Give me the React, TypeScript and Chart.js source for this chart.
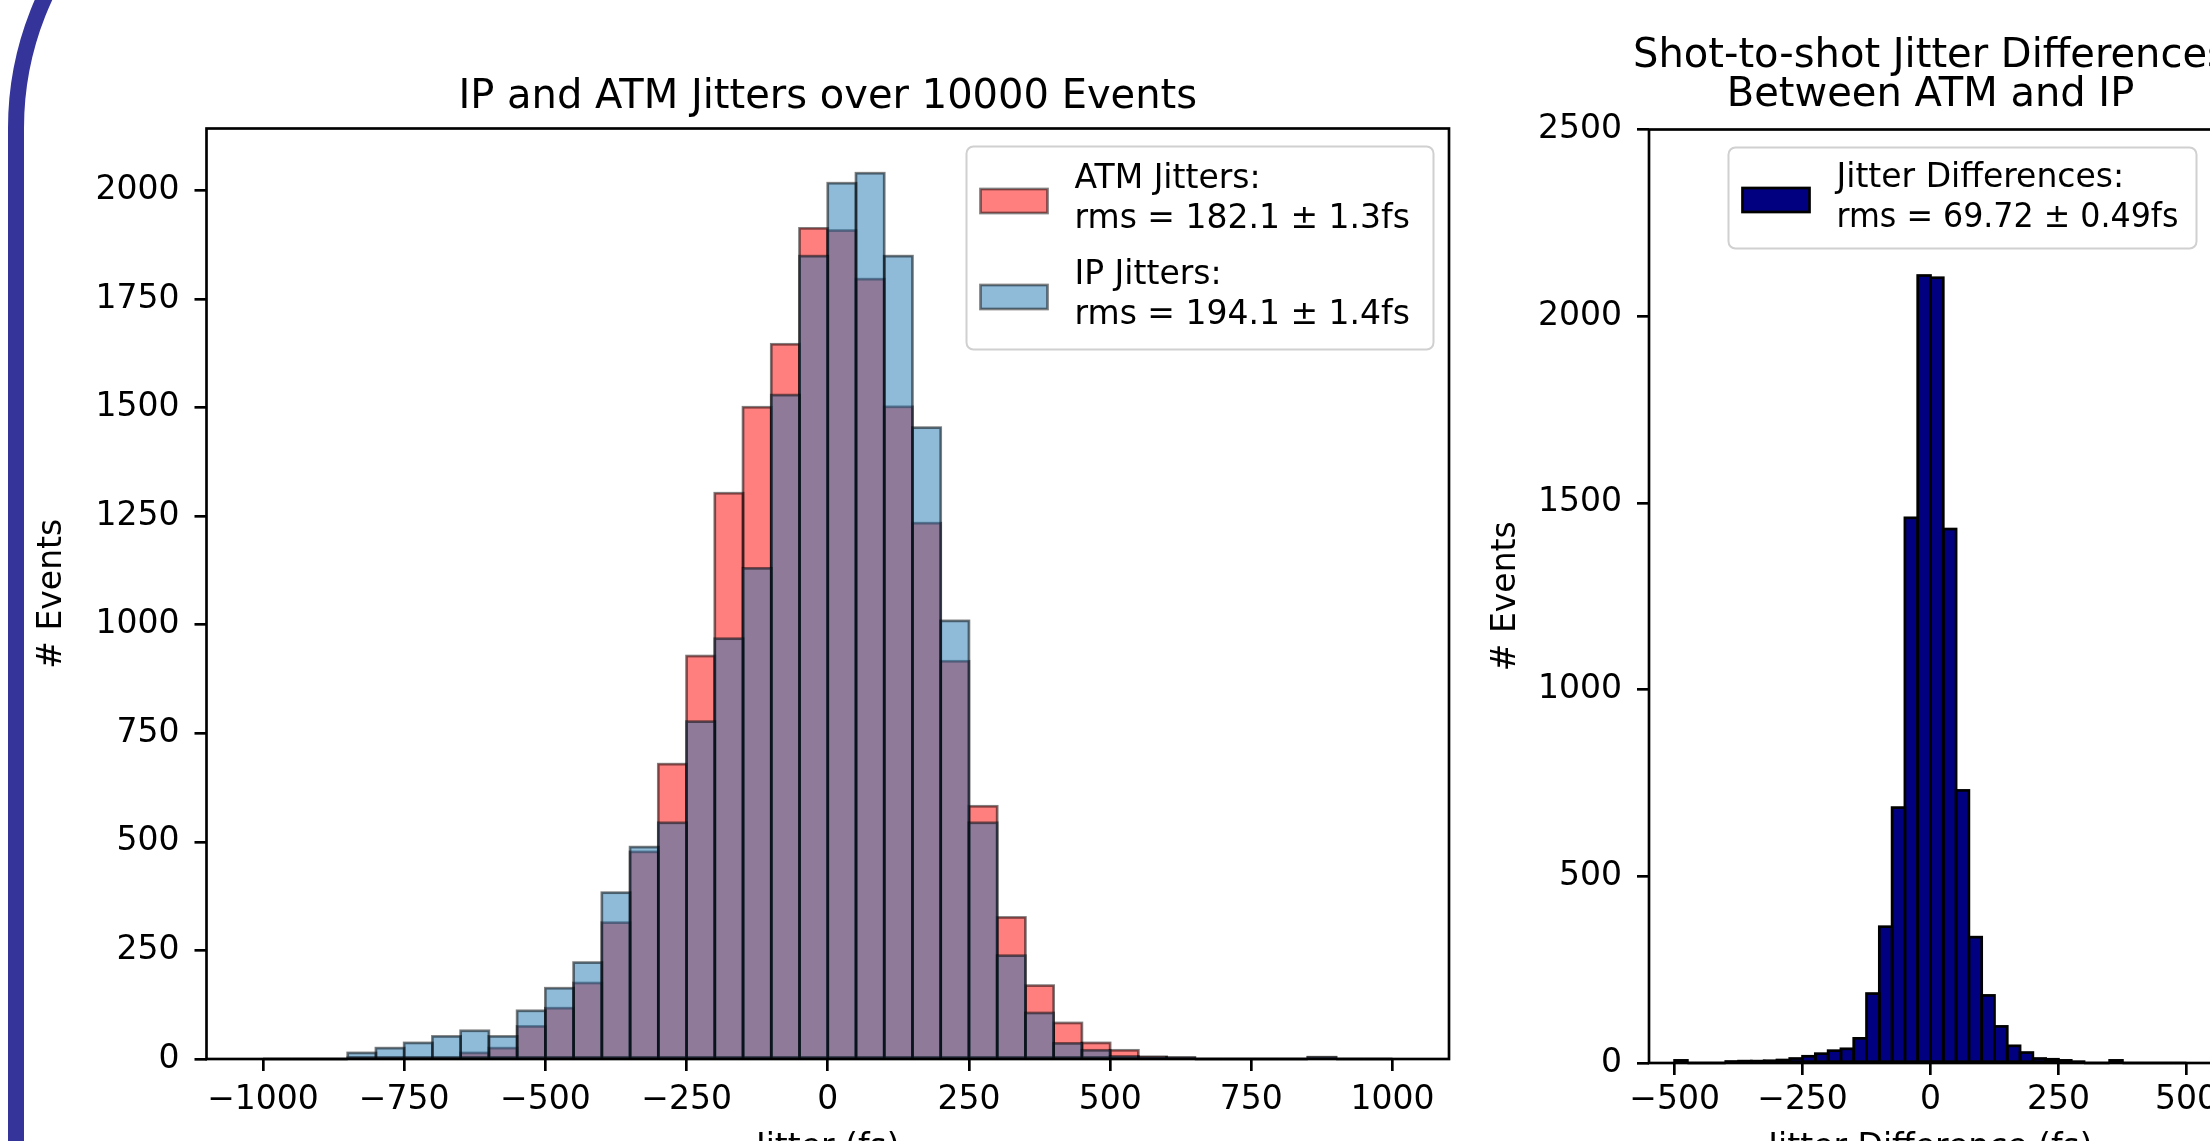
import React, { useEffect, useRef } from 'react';
import { Chart, registerables } from 'chart.js';

Chart.register(...registerables);

const FONT = '"DejaVu Sans"';

// ---------- Left panel: IP and ATM jitters (bin width 50 fs) ----------
const jitterBinCenters = [
  -975, -925, -875, -825, -775, -725, -675, -625, -575, -525,
  -475, -425, -375, -325, -275, -225, -175, -125, -75, -25,
  25, 75, 125, 175, 225, 275, 325, 375, 425, 475,
  525, 575, 625, 675, 725, 775, 825, 875, 925, 975,
];
const atmCounts = [
  0, 0, 0, 2, 2, 3, 3, 14, 25, 75,
  117, 175, 314, 477, 679, 928, 1303, 1501, 1646, 1913,
  1908, 1796, 1502, 1234, 916, 582, 326, 169, 83, 37,
  20, 5, 3, 0, 0, 0, 0, 4, 0, 0,
];
const ipCounts = [
  0, 0, 0, 14, 25, 37, 52, 65, 52, 111,
  163, 222, 383, 488, 544, 777, 968, 1130, 1529, 1849,
  2017, 2040, 1849, 1454, 1009, 544, 238, 106, 36, 20,
  6, 4, 2, 0, 0, 0, 0, 4, 0, 0,
];
const jitterXTicks = [-1000, -750, -500, -250, 0, 250, 500, 750, 1000];
const jitterYTicks = [0, 250, 500, 750, 1000, 1250, 1500, 1750, 2000];
const jitterTitle = ['IP and ATM Jitters over 10000 Events'];
const jitterLegend = [
  { lines: ['ATM Jitters:', 'rms = 182.1 \u00b1 1.3fs'], fill: 'rgba(255,0,0,0.5)', edge: 'rgba(0,0,0,0.5)' },
  { lines: ['IP Jitters:', 'rms = 194.1 \u00b1 1.4fs'], fill: 'rgba(31,119,180,0.5)', edge: 'rgba(0,0,0,0.5)' },
];

// ---------- Right panel: shot-to-shot differences (bin width 25 fs) ----------
const diffBinCenters = [
  -487.5, -462.5, -437.5, -412.5, -387.5, -362.5, -337.5, -312.5, -287.5, -262.5,
  -237.5, -212.5, -187.5, -162.5, -137.5, -112.5, -87.5, -62.5, -37.5, -12.5,
  12.5, 37.5, 62.5, 87.5, 112.5, 137.5, 162.5, 187.5, 212.5, 237.5,
  262.5, 287.5, 312.5, 337.5, 362.5, 387.5, 412.5, 437.5, 462.5, 487.5,
];
const diffCounts = [
  7, 0, 0, 0, 4, 5, 5, 6, 8, 12,
  18, 25, 33, 38, 66, 186, 365, 684, 1460, 2109,
  2103, 1430, 730, 337, 181, 98, 46, 28, 12, 10,
  7, 1, 0, 0, 7, 0, 0, 0, 0, 0,
];
const diffXTicks = [-500, -250, 0, 250, 500];
const diffYTicks = [0, 500, 1000, 1500, 2000, 2500];
const diffTitle = ['Shot-to-shot Jitter Differences', 'Between ATM and IP'];
const diffLegend = [
  { lines: ['Jitter Differences:', 'rms = 69.72 \u00b1 0.49fs'], fill: '#000080', edge: '#000000' },
];

const fmt = (v: number) => (v < 0 ? '\u2212' + Math.abs(v) : String(v));

function mplPlugin(cfg: any) {
  return {
    id: 'mplLook',
    afterDatasetDraw(chart: any, args: any) {
      const ctx = chart.ctx;
      const edge = cfg.edges[args.index];
      ctx.save();
      ctx.strokeStyle = edge;
      ctx.lineWidth = cfg.edgeWidth;
      args.meta.data.forEach((el: any) => {
        const p = el.getProps(['x', 'y', 'base', 'width'], true);
        const l = p.x - p.width / 2;
        const t = Math.min(p.y, p.base);
        const h = Math.abs(p.base - p.y);
        ctx.strokeRect(l, t, p.width, h);
      });
      ctx.restore();
    },
    afterDatasetsDraw(chart: any) {
      const ctx = chart.ctx;
      const { left, right, top, bottom } = chart.chartArea;
      ctx.save();
      ctx.strokeStyle = '#000';
      ctx.lineWidth = 2.67;
      ctx.strokeRect(left, top, right - left, bottom - top);
      ctx.restore();
    },
    afterDraw(chart: any) {
      const ctx = chart.ctx;
      const { left, right, top } = chart.chartArea;
      ctx.save();
      // title (centred over the axes, like matplotlib)
      ctx.fillStyle = '#000';
      ctx.font = `40px ${FONT}`;
      ctx.textAlign = 'center';
      ctx.textBaseline = 'alphabetic';
      const cx = (left + right) / 2;
      const n = cfg.title.length;
      cfg.title.forEach((line: string, i: number) => {
        ctx.fillText(line, cx, cfg.titleBaseline - (n - 1 - i) * 39);
      });
      // legend box (upper right)
      const bw = cfg.legendW;
      const bh = cfg.legendH;
      const bx = right - 15.5 - bw;
      const by = top + 18;
      ctx.beginPath();
      ctx.roundRect(bx, by, bw, bh, 7);
      ctx.fillStyle = 'rgba(255,255,255,0.8)';
      ctx.fill();
      ctx.strokeStyle = '#d0d0d0';
      ctx.lineWidth = 2;
      ctx.stroke();
      ctx.font = `33px ${FONT}`;
      ctx.textAlign = 'left';
      const maxW = bw - 126;
      cfg.legend.forEach((item: any, i: number) => {
        const b1 = by + cfg.legendFirstBaseline + i * 96;
        const b2 = b1 + 40;
        const hc = (b1 + b2) / 2 - 6.5;
        ctx.fillStyle = item.fill;
        ctx.fillRect(bx + 14, hc - 12, 67, 24);
        ctx.strokeStyle = item.edge;
        ctx.lineWidth = 2.7;
        ctx.strokeRect(bx + 14, hc - 12, 67, 24);
        ctx.fillStyle = '#000';
        ctx.fillText(item.lines[0], bx + 108, b1, maxW);
        ctx.fillText(item.lines[1], bx + 108, b2, maxW);
      });
      ctx.restore();
    },
  };
}

function axisCommon(ticksArr: number[], extra: any) {
  return {
    type: 'linear',
    offset: false,
    afterBuildTicks: (s: any) => {
      s.ticks = ticksArr.map((v) => ({ value: v }));
    },
    grid: {
      display: true,
      offset: false,
      drawOnChartArea: false,
      drawTicks: true,
      tickLength: 12,
      tickWidth: 2.67,
      tickColor: '#000',
      color: '#000',
      lineWidth: 2.67,
    },
    border: { display: false },
    ...extra,
  };
}

const CANVAS_H = 1200;

function buildConfig(opts: any) {
  return {
    type: 'bar',
    data: {
      datasets: opts.datasets.map((d: any) => ({
        label: d.label,
        data: opts.centers.map((x: number, i: number) => ({ x, y: d.values[i] })),
        backgroundColor: d.color,
        borderWidth: 0,
        order: d.order,
        grouped: false,
        barPercentage: 1,
        categoryPercentage: 1,
      })),
    },
    options: {
      responsive: false,
      maintainAspectRatio: false,
      animation: false,
      devicePixelRatio: 1,
      events: [],
      layout: { padding: { top: opts.areaTop, left: 0, right: opts.padRight, bottom: 0 } },
      plugins: {
        legend: { display: false },
        title: { display: false },
        tooltip: { enabled: false },
      },
      scales: {
        x: axisCommon(opts.xTicks, {
          min: opts.xMin,
          max: opts.xMax,
          afterFit: (s: any) => {
            s.height = CANVAS_H - opts.areaBottom;
          },
          ticks: {
            autoSkip: false,
            maxRotation: 0,
            minRotation: 0,
            padding: opts.xTickPad,
            color: '#000',
            font: { family: 'DejaVu Sans', size: 33 },
            callback: (v: number) => fmt(v),
          },
          title: {
            display: true,
            text: opts.xLabel,
            color: '#000',
            font: { family: 'DejaVu Sans', size: 33 },
            padding: { top: 0, bottom: 32 },
          },
        }),
        y: axisCommon(opts.yTicks, {
          min: 0,
          max: opts.yMax,
          afterFit: (s: any) => {
            s.width = opts.yWidth;
          },
          ticks: {
            autoSkip: false,
            padding: 15,
            color: '#000',
            font: { family: 'DejaVu Sans', size: 33 },
            callback: (v: number) => fmt(v),
          },
          title: {
            display: true,
            text: '# Events',
            color: '#000',
            font: { family: 'DejaVu Sans', size: 33 },
            padding: { top: opts.yTitlePad, bottom: 0 },
          },
        }),
      },
    },
    plugins: [
      mplPlugin({
        edges: opts.datasets.map((d: any) => d.edge),
        edgeWidth: 2.7,
        title: opts.title,
        titleBaseline: opts.titleBaseline,
        legend: opts.legend,
        legendW: opts.legendW,
        legendH: opts.legendH,
        legendFirstBaseline: opts.legendFirstBaseline,
      }),
    ],
  };
}

function ChartCanvas({ makeConfig, left, width, height }: any) {
  const ref = useRef<HTMLCanvasElement>(null);
  useEffect(() => {
    const chart = new Chart(ref.current as HTMLCanvasElement, makeConfig() as any);
    return () => chart.destroy();
  }, []);
  return (
    <canvas
      ref={ref}
      width={width}
      height={height}
      style={{ position: 'absolute', left, top: 0, width, height }}
    />
  );
}

const leftConfig = () =>
  buildConfig({
    centers: jitterBinCenters,
    datasets: [
      { label: 'ATM Jitters', values: atmCounts, color: 'rgba(255,0,0,0.5)', edge: 'rgba(0,0,0,0.5)', order: 2 },
      { label: 'IP Jitters', values: ipCounts, color: 'rgba(31,119,180,0.5)', edge: 'rgba(0,0,0,0.5)', order: 1 },
    ],
    xTicks: jitterXTicks,
    yTicks: jitterYTicks,
    xMin: -1100,
    xMax: 1100,
    yMax: 2143,
    yWidth: 206.5,
    padRight: 1470 - 1449,
    areaTop: 128.5,
    areaBottom: 1059,
    xTickPad: 10,
    yTitlePad: 33,
    xLabel: 'Jitter (fs)',
    title: jitterTitle,
    titleBaseline: 108,
    legend: jitterLegend,
    legendW: 467,
    legendH: 203,
    legendFirstBaseline: 41,
  });

const rightConfig = () =>
  buildConfig({
    centers: diffBinCenters,
    datasets: [{ label: 'Jitter Differences', values: diffCounts, color: '#000080', edge: '#000000', order: 1 }],
    xTicks: diffXTicks,
    yTicks: diffYTicks,
    xMin: -550,
    xMax: 550,
    yMax: 2500,
    yWidth: 179,
    padRight: 830 - 742,
    areaTop: 129.5,
    areaBottom: 1063,
    xTickPad: 6,
    yTitlePad: 17,
    xLabel: 'Jitter Difference (fs)',
    title: diffTitle,
    titleBaseline: 106,
    legend: diffLegend,
    legendW: 468,
    legendH: 101,
    legendFirstBaseline: 39,
  });

export default function App() {
  return (
    <div
      style={{
        position: 'fixed',
        left: 0,
        top: 0,
        width: 2210,
        height: 1141,
        overflow: 'hidden',
        background: '#ffffff',
      }}
    >
      <div
        style={{
          position: 'absolute',
          left: 8,
          top: -192,
          width: 4000,
          height: 4000,
          border: '16px solid #34349a',
          borderRadius: 320,
          boxSizing: 'border-box',
        }}
      />
      <ChartCanvas makeConfig={leftConfig} left={0} width={1470} height={CANVAS_H} />
      <ChartCanvas makeConfig={rightConfig} left={1470} width={830} height={CANVAS_H} />
    </div>
  );
}
